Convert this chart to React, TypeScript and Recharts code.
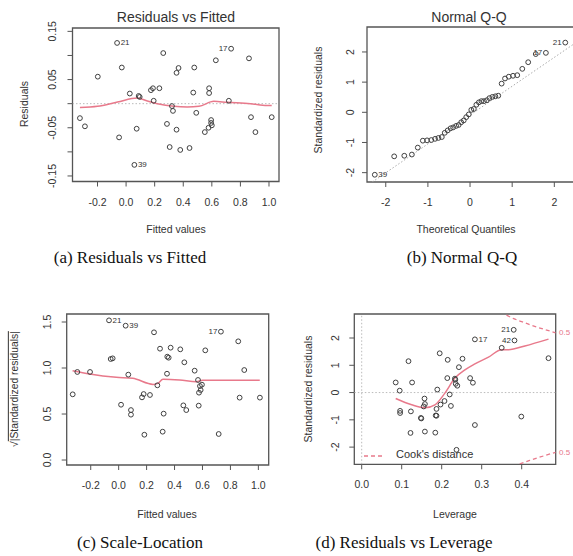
import React from 'react';
import { ComposedChart, Scatter, Line, XAxis, YAxis, ReferenceLine, ReferenceArea } from 'recharts';

// ---------- (a) Residuals vs Fitted ----------
const fittedValues = [-0.323, -0.288, -0.198, -0.063, -0.03, -0.049, 0.026, 0.058, 0.074, 0.088, 0.095, 0.174, 0.188, 0.193, 0.233, 0.26, 0.286, 0.305, 0.321, 0.328, 0.353, 0.367, 0.353, 0.379, 0.444, 0.47, 0.477, 0.491, 0.551, 0.577, 0.581, 0.581, 0.595, 0.595, 0.6, 0.628, 0.719, 0.735, 0.86, 0.874, 0.905, 1.019];
const residuals = [-0.03, -0.047, 0.056, 0.126, 0.075, -0.07, 0.021, -0.127, -0.052, 0.016, 0.014, 0.028, 0.032, 0.006, 0.032, 0.105, -0.042, -0.09, -0.005, -0.015, 0.064, 0.074, -0.054, -0.096, -0.092, 0.023, 0.075, -0.019, -0.059, -0.05, 0.032, 0.022, -0.034, -0.04, -0.045, 0.09, 0.006, 0.114, 0.094, -0.028, -0.059, -0.028];
const smoothAX = [-0.323, -0.2, -0.06, 0.079, 0.149, 0.219, 0.335, 0.428, 0.51, 0.614, 0.707, 0.87, 0.986, 1.019];
const smoothAY = [-0.008, -0.0055, 0.0034, 0.0117, 0.0055, 0.0, -0.0055, -0.0069, -0.0055, 0.0048, 0.0028, 0.0, -0.004, -0.004];
const idA = [
  { x: -0.063, y: 0.126, t: '21', side: 1 },
  { x: 0.058, y: -0.127, t: '39', side: 1 },
  { x: 0.735, y: 0.114, t: '17', side: -1 },
];
const ticksAX = [-0.2, 0, 0.2, 0.4, 0.6, 0.8, 1.0];
const ticksAY = [-0.15, -0.1, -0.05, 0, 0.05, 0.1, 0.15];

// ---------- (b) Normal Q-Q ----------
const theoQuantiles = [-2.26, -1.8, -1.56, -1.38, -1.24, -1.12, -1.02, -0.92, -0.83, -0.75, -0.67, -0.6, -0.53, -0.46, -0.4, -0.33, -0.27, -0.21, -0.15, -0.09, -0.03, 0.03, 0.09, 0.15, 0.21, 0.27, 0.33, 0.4, 0.46, 0.53, 0.6, 0.67, 0.75, 0.83, 0.92, 1.02, 1.12, 1.24, 1.38, 1.56, 1.8, 2.26];
const sortedStdResid = [-2.07, -1.46, -1.44, -1.4, -1.17, -0.94, -0.93, -0.92, -0.88, -0.85, -0.82, -0.68, -0.6, -0.53, -0.5, -0.45, -0.42, -0.33, -0.27, -0.16, -0.07, 0.08, 0.11, 0.25, 0.33, 0.37, 0.37, 0.4, 0.47, 0.51, 0.53, 0.55, 0.95, 1.12, 1.18, 1.21, 1.23, 1.44, 1.66, 1.93, 1.97, 2.31];
const idB = [
  { x: -2.26, y: -2.07, t: '39', side: 1 },
  { x: 1.8, y: 1.97, t: '17', side: -1 },
  { x: 2.26, y: 2.31, t: '21', side: -1 },
];
const qqLine = [{ x: -2.32, y: -2.31 }, { x: 2.46, y: 2.26 }];
const ticksBX = [-2, -1, 0, 1, 2];
const ticksBY = [-2, -1, 0, 1, 2];

// ---------- (c) Scale-Location ----------
const slFitted = [-0.329, -0.296, -0.205, -0.069, -0.057, -0.043, 0.017, 0.05, 0.069, 0.088, 0.088, 0.167, 0.179, 0.184, 0.224, 0.253, 0.277, 0.296, 0.315, 0.322, 0.346, 0.348, 0.358, 0.372, 0.441, 0.463, 0.47, 0.484, 0.544, 0.568, 0.573, 0.575, 0.582, 0.587, 0.596, 0.62, 0.716, 0.732, 0.856, 0.866, 0.899, 1.011];
const slSqrtStd = [0.714, 0.957, 0.957, 1.518, 1.098, 1.105, 0.601, 1.46, 0.928, 0.543, 0.493, 0.681, 0.717, 0.275, 0.707, 1.388, 0.812, 1.21, 0.308, 0.504, 0.938, 1.123, 1.112, 1.221, 1.203, 0.594, 1.062, 0.543, 0.971, 0.87, 0.591, 0.732, 0.804, 0.761, 0.819, 1.192, 0.283, 1.395, 1.29, 0.678, 0.978, 0.678];
const smoothCX = [-0.33, -0.207, -0.017, 0.1, 0.246, 0.28, 0.317, 0.437, 0.556, 0.6, 0.8, 1.01];
const smoothCY = [0.971, 0.935, 0.899, 0.888, 0.822, 0.833, 0.878, 0.87, 0.852, 0.868, 0.868, 0.868];
const idC = [
  { x: -0.069, y: 1.518, t: '21', side: 1 },
  { x: 0.05, y: 1.46, t: '39', side: 1 },
  { x: 0.732, y: 1.395, t: '17', side: -1 },
];
const ticksCX = [-0.2, 0, 0.2, 0.4, 0.6, 0.8, 1.0];
const ticksCY = [0, 0.5, 1.0, 1.5];

// ---------- (d) Residuals vs Leverage ----------
const leverage = [0.085, 0.095, 0.096, 0.096, 0.117, 0.122, 0.123, 0.126, 0.148, 0.149, 0.155, 0.157, 0.158, 0.158, 0.184, 0.185, 0.187, 0.187, 0.189, 0.195, 0.197, 0.207, 0.215, 0.214, 0.22, 0.223, 0.233, 0.234, 0.235, 0.237, 0.239, 0.243, 0.252, 0.271, 0.278, 0.283, 0.283, 0.35, 0.38, 0.382, 0.399, 0.467];
const stdResid = [0.37, 0.07, -0.67, -0.75, 1.15, -1.48, -0.69, 0.37, -0.93, -0.95, -0.51, -0.22, -0.42, -1.43, -1.47, -0.84, -0.85, -0.6, 0.11, 1.44, -0.44, -0.31, 1.2, 0.53, -0.07, -0.49, 0.51, 0.47, 0.32, -2.1, 0.25, 0.93, 1.24, 0.53, 0.36, -1.19, 1.95, 1.64, 2.3, 1.91, -0.88, 1.26];
const smoothDX = [0.085, 0.125, 0.158, 0.183, 0.208, 0.233, 0.258, 0.283, 0.317, 0.35, 0.367, 0.408, 0.467];
const smoothDY = [-0.22, -0.45, -0.56, -0.45, -0.02, 0.53, 0.83, 1.05, 1.3, 1.57, 1.57, 1.71, 1.96];
const cookUpperX = [0.362, 0.38, 0.4, 0.42, 0.44, 0.46, 0.485];
const cookUpperY = [2.84, 2.71, 2.6, 2.49, 2.39, 2.3, 2.19];
const cookLowerX = [0.395, 0.42, 0.44, 0.46, 0.485];
const cookLowerY = [-2.62, -2.49, -2.39, -2.3, -2.19];
const idD = [
  { x: 0.283, y: 1.95, t: '17', side: 1 },
  { x: 0.38, y: 2.3, t: '21', side: -1 },
  { x: 0.382, y: 1.91, t: '42', side: -1 },
];
const ticksDX = [0, 0.1, 0.2, 0.3, 0.4];
const ticksDY = [-2, -1, 0, 1, 2];

// ---------- styling ----------
const SANS = '"Liberation Sans", Arial, Helvetica, sans-serif';
const SERIF = '"Liberation Serif", "Times New Roman", serif';
const PINK = '#E8798B';
const BOX = '#555';
const INK = '#333';

const zip = (xs: number[], ys: number[]) => xs.map((x, i) => ({ x, y: ys[i] }));

const pointShape = (p: any) => (
  <circle cx={p.cx} cy={p.cy} r={2.4} fill="none" stroke="#404040" strokeWidth={1} />
);
const labelShape = (p: any) => {
  const d = p.payload || {};
  return (
    <text x={p.cx + 8 * (d.side || 1)} y={p.cy} textAnchor="middle" dominantBaseline="central"
      fontSize={8} fontFamily={SANS} fill={INK}>{d.t}</text>
  );
};

const makeXTick = (fmt: (v: number) => string) => (p: any) => (
  <text x={p.x} y={p.y + 15} textAnchor="middle" dominantBaseline="central" fontSize={10.5}
    fontFamily={SANS} fill={INK}>{fmt(p.payload.value)}</text>
);
const makeYTick = (fmt: (v: number) => string, off: number) => (p: any) => {
  const cx = p.x - (off - 5);
  const cy = p.y;
  return (
    <text x={cx} y={cy} transform={`rotate(-90 ${cx} ${cy})`} textAnchor="middle" dominantBaseline="central"
      fontSize={10.5} fontFamily={SANS} fill={INK}>{fmt(p.payload.value)}</text>
  );
};

const f1 = (v: number) => v.toFixed(1);
const f0 = (v: number) => String(Math.round(v));
const fResid = (v: number) => {
  const a = Math.abs(v);
  return Math.abs(a - 0.15) < 1e-9 || Math.abs(a - 0.05) < 1e-9 ? v.toFixed(2) : '';
};

type PanelProps = {
  left: number; top: number; width: number; height: number;
  box: { l: number; r: number; t: number; b: number };
  xDom: [number, number]; yDom: [number, number];
  xTicks: number[]; yTicks: number[];
  xFmt: (v: number) => string; yFmt: (v: number) => string; yOff: number;
  children?: React.ReactNode;
};

const Panel = ({ left, top, width, height, box, xDom, yDom, xTicks, yTicks, xFmt, yFmt, yOff, children }: PanelProps) => {
  const wy = 40, hx = 30;
  const margin = { top: box.t, left: box.l - wy, right: width - box.r, bottom: height - box.b - hx };
  return (
    <div style={{ position: 'absolute', left, top }}>
      <ComposedChart width={width} height={height} margin={margin}>
        <XAxis type="number" dataKey="x" domain={xDom} allowDataOverflow ticks={xTicks} interval={0}
          tickSize={5} tickMargin={0} axisLine={false} tickLine={{ stroke: BOX }} height={hx} tick={makeXTick(xFmt)} />
        <YAxis type="number" dataKey="y" domain={yDom} allowDataOverflow ticks={yTicks} interval={0}
          tickSize={5} tickMargin={0} axisLine={false} tickLine={{ stroke: BOX }} width={wy} tick={makeYTick(yFmt, yOff)} />
        <ReferenceArea x1={xDom[0]} x2={xDom[1]} y1={yDom[0]} y2={yDom[1]} fill="none" fillOpacity={0}
          stroke={BOX} strokeWidth={1.3} ifOverflow="visible" />
        {children}
      </ComposedChart>
    </div>
  );
};

const Txt = ({ x, y, size, children, rotate, family = SANS, color = INK, align = 'center' }: any) => (
  <div style={{
    position: 'absolute', left: x, top: y, fontSize: size, fontFamily: family, color, whiteSpace: 'nowrap', lineHeight: 1,
    transform: `translate(${align === 'left' ? '0' : '-50%'},-50%)${rotate ? ` rotate(${rotate}deg)` : ''}`,
  }}>{children}</div>
);

export default function App() {
  const ptsA = zip(fittedValues, residuals);
  const ptsB = zip(theoQuantiles, sortedStdResid);
  const ptsC = zip(slFitted, slSqrtStd);
  const ptsD = zip(leverage, stdResid);
  return (
    <div style={{ position: 'absolute', left: 0, top: 0, width: 573, height: 556, overflow: 'hidden', background: '#fff' }}>
      {/* (a) */}
      <Panel left={0} top={0} width={290} height={240} box={{ l: 72.5, r: 279, t: 28, b: 181.5 }}
        xDom={[-0.375, 1.07]} yDom={[-0.1615, 0.157]} xTicks={ticksAX} yTicks={ticksAY}
        xFmt={f1} yFmt={fResid} yOff={20.5}>
        <ReferenceLine y={0} stroke="#bbb" strokeDasharray="1.5 2" />
        <Line data={zip(smoothAX, smoothAY)} dataKey="y" type="monotone" stroke={PINK} strokeWidth={1.5} dot={false} isAnimationActive={false} />
        <Scatter data={ptsA} dataKey="y" shape={pointShape} isAnimationActive={false} />
        <Scatter data={idA} dataKey="y" shape={labelShape} isAnimationActive={false} />
      </Panel>
      {/* (b) */}
      <Panel left={285} top={0} width={290} height={240} box={{ l: 82, r: 288.7, t: 27, b: 182 }}
        xDom={[-2.445, 2.46]} yDom={[-2.31, 2.827]} xTicks={ticksBX} yTicks={ticksBY}
        xFmt={f0} yFmt={f0} yOff={17}>
        <ReferenceLine segment={qqLine} stroke="#aaa" strokeDasharray="1.5 2" ifOverflow="hidden" />
        <Scatter data={ptsB} dataKey="y" shape={pointShape} isAnimationActive={false} />
        <Scatter data={idB} dataKey="y" shape={labelShape} isAnimationActive={false} />
      </Panel>
      {/* (c) */}
      <Panel left={0} top={285} width={290} height={240} box={{ l: 66.7, r: 268.7, t: 29, b: 180 }}
        xDom={[-0.372, 1.074]} yDom={[-0.054, 1.587]} xTicks={ticksCX} yTicks={ticksCY}
        xFmt={f1} yFmt={f1} yOff={20}>
        <Line data={zip(smoothCX, smoothCY)} dataKey="y" type="monotone" stroke={PINK} strokeWidth={1.5} dot={false} isAnimationActive={false} />
        <Scatter data={ptsC} dataKey="y" shape={pointShape} isAnimationActive={false} />
        <Scatter data={idC} dataKey="y" shape={labelShape} isAnimationActive={false} />
      </Panel>
      {/* (d) */}
      <Panel left={285} top={285} width={288} height={240} box={{ l: 69.3, r: 270.7, t: 29, b: 179.3 }}
        xDom={[-0.0185, 0.485]} yDom={[-2.63, 2.88]} xTicks={ticksDX} yTicks={ticksDY}
        xFmt={f1} yFmt={f0} yOff={19}>
        <ReferenceLine y={0} stroke="#bbb" strokeDasharray="1.5 2" />
        <ReferenceLine x={0} stroke="#bbb" strokeDasharray="1.5 2" />
        <Line data={zip(cookUpperX, cookUpperY)} dataKey="y" type="monotone" stroke={PINK} strokeWidth={1.3} strokeDasharray="4 3" dot={false} isAnimationActive={false} />
        <Line data={zip(cookLowerX, cookLowerY)} dataKey="y" type="monotone" stroke={PINK} strokeWidth={1.3} strokeDasharray="4 3" dot={false} isAnimationActive={false} />
        <Line data={zip(smoothDX, smoothDY)} dataKey="y" type="monotone" stroke={PINK} strokeWidth={1.5} dot={false} isAnimationActive={false} />
        <Scatter data={ptsD} dataKey="y" shape={pointShape} isAnimationActive={false} />
        <Scatter data={idD} dataKey="y" shape={labelShape} isAnimationActive={false} />
      </Panel>

      {/* titles */}
      <Txt x={176} y={17} size={14}>Residuals vs Fitted</Txt>
      <Txt x={469} y={17} size={14}>Normal Q-Q</Txt>

      {/* axis titles */}
      <Txt x={24} y={104} size={10.5} rotate={-90}>Residuals</Txt>
      <Txt x={176} y={229} size={10.5}>Fitted values</Txt>
      <Txt x={318} y={100} size={10.5} rotate={-90}>Standardized residuals</Txt>
      <Txt x={466} y={229} size={10.5}>Theoretical Quantiles</Txt>
      <Txt x={15} y={389} size={10.3} rotate={-90}>
        <span>√<span style={{ textDecoration: 'overline' }}>|Standardized residuals|</span></span>
      </Txt>
      <Txt x={167} y={514} size={10.5}>Fitted values</Txt>
      <Txt x={308} y={389} size={10.5} rotate={-90}>Standardized residuals</Txt>
      <Txt x={455} y={514} size={10.5}>Leverage</Txt>

      {/* Cook's distance legend and contour labels */}
      <div style={{ position: 'absolute', left: 363, top: 448 }}>
        <svg width={20} height={12}><line x1={1} y1={6} x2={19} y2={6} stroke={PINK} strokeWidth={1.3} strokeDasharray="4 3" /></svg>
      </div>
      <Txt x={396} y={454} size={11} align="left">Cook's distance</Txt>
      <Txt x={559} y={333} size={8} align="left" color={PINK}>0.5</Txt>
      <Txt x={559} y={453} size={8} align="left" color={PINK}>0.5</Txt>

      {/* captions */}
      <Txt x={130} y={257} size={17} family={SERIF} color="#111">(a) Residuals vs Fitted</Txt>
      <Txt x={462} y={257} size={17} family={SERIF} color="#111">(b) Normal Q-Q</Txt>
      <Txt x={140} y={542} size={17} family={SERIF} color="#111">(c) Scale-Location</Txt>
      <Txt x={404} y={542} size={17} family={SERIF} color="#111">(d) Residuals vs Leverage</Txt>
    </div>
  );
}
